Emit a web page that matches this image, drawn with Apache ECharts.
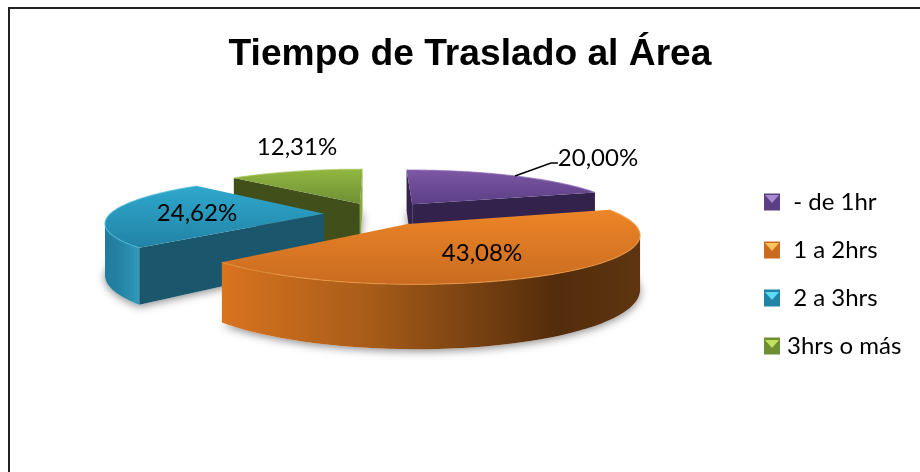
<!DOCTYPE html>
<html><head><meta charset="utf-8">
<style>html,body{margin:0;padding:0;background:#fff}#c{width:920px;height:472px}</style>
<script src="https://cdn.jsdelivr.net/npm/echarts@6/dist/echarts.min.js"></script>
</head><body><div id="c"></div>
<script>
const categories = [' - de 1hr', ' 1 a 2hrs', ' 2 a 3hrs', '3hrs o más'];
const values = [20.00, 43.08, 24.62, 12.31];
const valueLabels = ['20,00%', '43,08%', '24,62%', '12,31%'];

const chart = echarts.init(document.getElementById('c'), null, {renderer:'canvas'});
const R = 214, K = 0.205, P = 0.18, H = 50, CX = 370, CY = 213;
const explode = [68, 65, 46, 50];
const radiusF = [1, 1.01, 1, 1];
const nudge = [[4,2],[3,-1],[0,1],[8,0]];
const order = [2, 3, 1, 0];
const look = [
  {top:['#7d57a3','#5b3f85'], walls:['#33234c','#33234c'], rim:false, glow:'#8d68b5'},
  {top:['#ec8527','#c96b20'], walls:[null,null], rim:['#d9731f','#a85c19','#532c0c','#5e3510'], glow:'#f09a45'},
  {top:['#2fa8cc','#2183a6'], walls:['#1a566c',null], rim:['#1e7c9d','#2480a2','#2a90b2','#2f9cbf'], glow:'#4cbcdc'},
  {top:['#92b740','#6f8f35'], walls:['#414f1b','#8aa93c'], rim:false, glow:'#a9c860'}
];
const total = values.reduce((a,b)=>a+b,0);
const starts = []; values.reduce((a,v,i)=>(starts[i]=a,a+v),0);

function proj(X, Y, drop, n){
  const s = 1/(1+P*Y/R);
  return [CX + X*s + n[0], CY - Y*K*s + (drop||0)*s + n[1]];
}

function makeSlice(i){
  return function(params, api){
    const a0 = starts[i]/total*Math.PI*2, a1 = (starts[i]+values[i])/total*Math.PI*2;
    const mid = (a0+a1)/2, r = R*radiusF[i], nd = nudge[i];
    const o = [explode[i]*Math.sin(mid), explode[i]*Math.cos(mid)];
    const pt = (a,drop)=>proj(o[0]+r*Math.sin(a), o[1]+r*Math.cos(a), drop, nd);
    const st = look[i], z2 = order[i];
    const arcTop = [], arcBot = [];
    const n = 60;
    for(let k=0;k<=n;k++){
      const a = a0+(a1-a0)*k/n;
      arcTop.push(pt(a,0)); arcBot.push(pt(a,H));
    }
    const apex = proj(o[0],o[1],0,nd), apexB = proj(o[0],o[1],H,nd);
    const grad = (x0,y0,x1,y1,stops)=>new echarts.graphic.LinearGradient(x0,y0,x1,y1,stops);
    const children = [];
    children.push({type:'polygon', z2:z2, shape:{points:arcBot.concat([apexB])},
      style:{fill:'#ffffff', shadowBlur:9, shadowColor:'rgba(0,0,0,0.45)', shadowOffsetY:2}});
    if(st.rim){
      // only the viewer-facing stretch of the rim: x falls as the angle grows
      const keep = [];
      for(let k=0;k<=n;k++){
        if((k<n && arcTop[k+1][0]<arcTop[k][0]) || (k>0 && arcTop[k][0]<arcTop[k-1][0])) keep.push(k);
      }
      const rimPts = keep.map(k=>arcTop[k]).concat(keep.slice().reverse().map(k=>arcBot[k]));
      children.push({type:'polygon', z2:z2, shape:{points:rimPts}, style:{
        fill:grad(0,0,1,0,[{offset:0,color:st.rim[0]},{offset:.35,color:st.rim[1]},{offset:.8,color:st.rim[2]},{offset:1,color:st.rim[3]}])}});
    }
    [[arcTop[0],arcBot[0],st.walls[0]],[arcTop[n],arcBot[n],st.walls[1]]].forEach(w=>{
      if(w[2]) children.push({type:'polygon', z2:z2, shape:{points:[apex,w[0],w[1],apexB]}, style:{fill:w[2]}});
    });
    children.push({type:'polygon', z2:z2, shape:{points:[apex].concat(arcTop)},
      style:{fill:grad(0,0,0,1,[{offset:0,color:st.top[0]},{offset:1,color:st.top[1]}])}});
    children.push({type:'polyline', z2:z2, shape:{points:arcTop}, style:{fill:null, stroke:st.glow, lineWidth:1.2, opacity:.7}});
    return {type:'group', children};
  };
}

const series = categories.map((name,i)=>({
  type:'custom', name, coordinateSystem:'none', silent:true, animation:false,
  z: 2+order[i], clip:false,
  itemStyle:{color:look[i].top[0]},
  data:[values[i]],
  renderItem: makeSlice(i)
}));

const labelStyle = {font:'24px Lato', fill:'#000', textAlign:'center', textVerticalAlign:'middle'};
const labelAt = [[598,158],[482,253],[197,213],[297,147]];
const keyTop = [194,242,291,339];
const keyLight = ['#a98bd0','#ffc45e','#5fdcf5','#c3e35f'];

chart.setOption({
  animation:false,
  backgroundColor:'#fff',
  title:{text:'Tiempo de Traslado al Área', left:465, top:31, textAlign:'center',
    textStyle:{fontFamily:'Liberation Sans', fontWeight:'bold', fontSize:37.2, color:'#000'}},
  legend:{orient:'vertical', left:759, top:185, itemGap:24, itemWidth:16, itemHeight:17, icon:'rect',
    textStyle:{fontFamily:'Lato', fontSize:24, color:'#000', padding:[0,0,0,2]},
    data:categories.map((name,i)=>({name, itemStyle:{color:look[i].top[1]}}))},
  series,
  graphic:[
    {type:'polyline', z:10, silent:true, shape:{points:[[515,176],[551,163],[558,163]]}, style:{stroke:'#000', lineWidth:1.5, fill:null}},
    {type:'polyline', z:10, silent:true, shape:{points:[[9,472],[9,8],[920,8]]}, style:{stroke:'#222', lineWidth:2, fill:null}},
  ].concat(valueLabels.map((t,i)=>({type:'text', z:10, silent:true, x:labelAt[i][0], y:labelAt[i][1], style:Object.assign({text:t},labelStyle)})))
   .concat(keyTop.map((y,i)=>({type:'polygon', z:10, silent:true, shape:{points:[[765,y+1],[779,y+1],[772,y+9]]}, style:{fill:keyLight[i]}})))
});
</script></body></html>
